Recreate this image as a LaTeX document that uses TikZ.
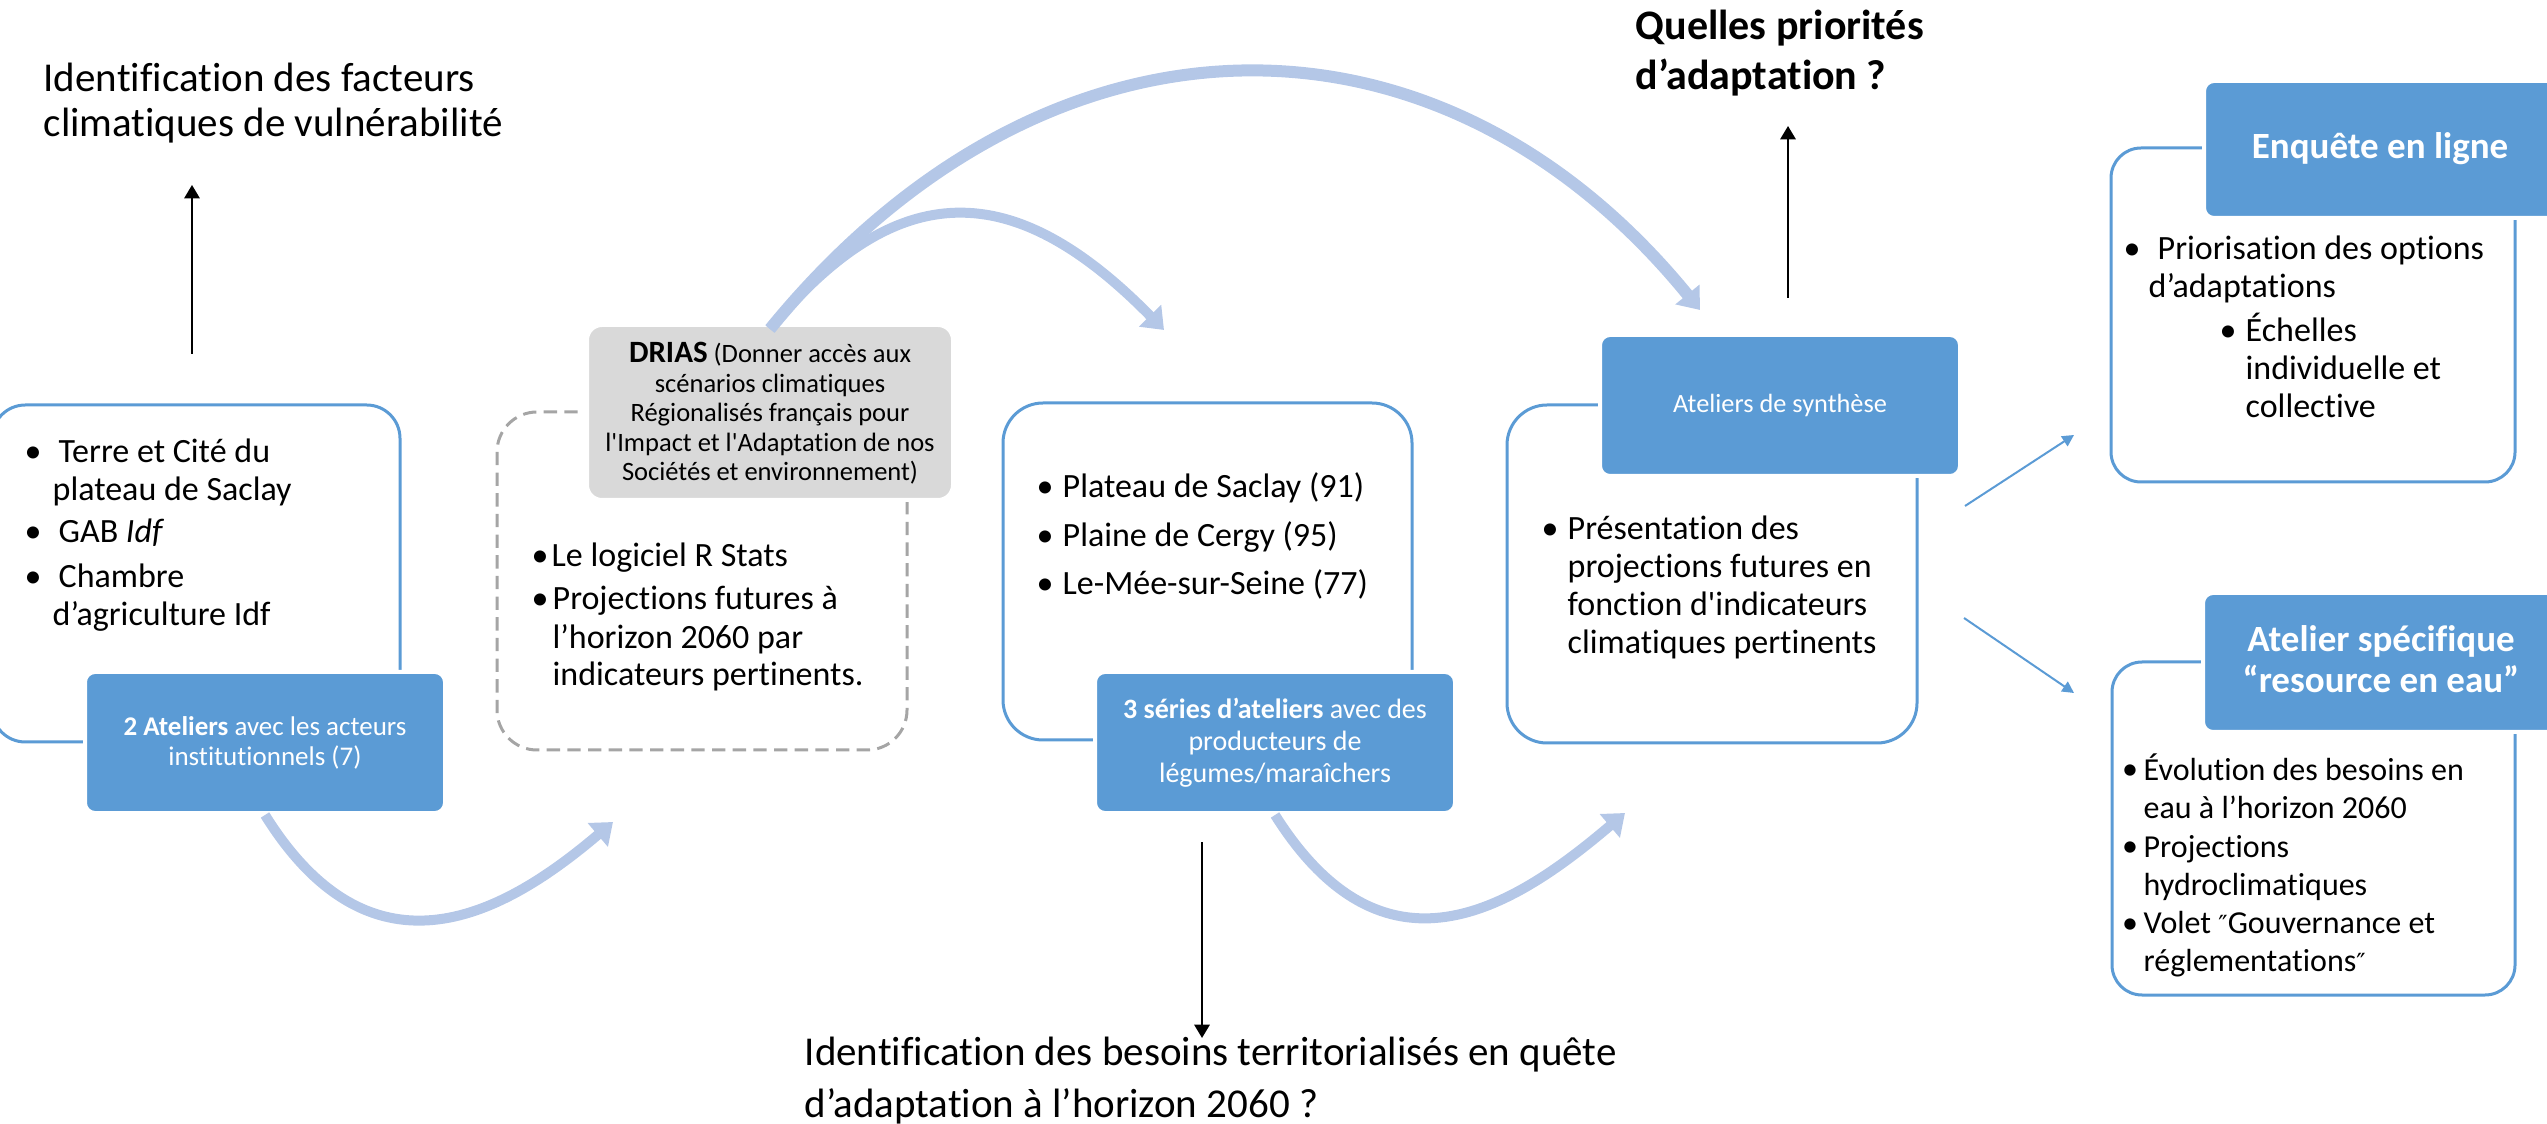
\documentclass[tikz,border=0pt]{standalone}
\usepackage{fontspec}
\setmainfont{Carlito}[Ligatures={TeXOff,NoCommon}]
\newfontfamily\djv{DejaVu Sans}
\usetikzlibrary{arrows.meta,fit}
\definecolor{accblue}{HTML}{5B9BD5}
\definecolor{arcblue}{HTML}{B4C7E7}
\definecolor{dgray}{HTML}{D9D9D9}
\definecolor{dashgray}{HTML}{A5A5A5}
\newcommand{\fbul}{\fontsize{10.2}{11.4}\selectfont}
\newcommand{\fbulb}{\fontsize{9.6}{11.3}\selectfont}
\newcommand{\fblue}{\fontsize{8.1}{9}\selectfont}
\newcommand{\fbluec}{\fontsize{8.4}{9.6}\selectfont}
\newcommand{\fsyn}{\fontsize{7.9}{9}\selectfont}
\newcommand{\fdrias}{\fontsize{7.95}{8.85}\selectfont}
\newcommand{\fhead}{\fontsize{11.1}{12.3}\selectfont}
\newcommand{\fbig}{\fontsize{12.3}{13.5}\selectfont}
\newcommand{\fq}{\fontsize{12.6}{15}\selectfont}
\newcommand{\fbot}{\fontsize{12.3}{15.6}\selectfont}
\begin{document}
\begin{tikzpicture}[x=0.3pt,y=-0.3pt,
  wbox/.style={draw=accblue,line width=0.9pt,fill=white,inner sep=0pt,rounded corners=10pt},
  bbox/.style={draw=white,line width=1.2pt,fill=accblue,inner sep=0pt,rounded corners=3pt},
  dbox/.style={draw=dashgray,line width=0.9pt,dash pattern=on 4pt off 2.2pt,inner sep=0pt,rounded corners=12pt},
  gbox/.style={draw=white,line width=1.2pt,fill=dgray,inner sep=0pt,rounded corners=4.5pt},
  txt/.style={anchor=base west,inner sep=0pt,align=left,text=black},
  ctxt/.style={anchor=base,inner sep=0pt,align=center},
  wtxt/.style={ctxt,text=white},
  bul/.style={anchor=base,inner sep=0pt},
  flow/.style={draw=arcblue,line width=3pt,-{Triangle[length=6pt,width=9pt]}},
  blk/.style={draw=black,line width=0.6pt,-{Triangle[length=4pt,width=4.6pt]}},
  lnk/.style={draw=accblue,line width=0.6pt,-{Triangle[length=3.5pt,width=3.5pt]}},
]
\useasboundingbox (0,0) rectangle (2547,1124);
\clip (0,0) rectangle (2547,1124);

% white / dashed boxes
\node[wbox,fit={(-8,405)(400,742)}] (b1) {};
\node[dbox,fit={(497,412)(907,750)}] (b2) {};
\node[wbox,rounded corners=12pt,fit={(1003,403)(1412,740)}] (b3) {};
\node[wbox,rounded corners=12pt,fit={(1507,405)(1917,743)}] (b4) {};
\node[wbox,rounded corners=9pt,fit={(2111,148)(2515,482)}] (b5) {};
\node[wbox,rounded corners=9pt,fit={(2112,662)(2515,995)}] (b6) {};

% coordinates for free ends
\coordinate (a1e) at (613,822);
\coordinate (a2e) at (1625,813);
\coordinate (a3e) at (1164,330);
\coordinate (a4e) at (1700,310);
\coordinate (u1s) at (192,354);
\coordinate (u1e) at (192,185);
\coordinate (u2s) at (1788,298);
\coordinate (u2e) at (1788,126);
\coordinate (d1s) at (1202,842);
\coordinate (d1e) at (1202,1038);
\coordinate (l1s) at (1965,506);
\coordinate (l1e) at (2074,435);
\coordinate (l2s) at (1964,618);
\coordinate (l2e) at (2074,693);

% blue / gray header boxes
\node[bbox,fit={(85,672)(445,813)}] (h1) {};
\node[gbox,fit={(587,325)(953,500)}] (drias) {};
\node[bbox,fit={(1095,672)(1455,813)}] (h3) {};
\node[bbox,fit={(1600,335)(1960,476)}] (h4) {};
\node[bbox,fit={(2204,81)(2570,218)}] (h5) {};
\node[bbox,fit={(2203,593)(2570,732)}] (h6) {};

% light curved arrows
\draw[flow] (h1.south) .. controls (374,990) and (507,912) .. (a1e);
\draw[flow] (h3.south) .. controls (1384,988) and (1511,910) .. (a2e);
\draw[flow,line width=3.6pt] (drias.north) ++(0,6) .. controls (1047,-10) and (1439,-10) .. (a4e);
\draw[flow] (drias.north) ++(0,6) .. controls (897,176) and (1013,176) .. (a3e);

% black arrows
\draw[blk] (u1s) -- (u1e);
\draw[blk] (u2s) -- (u2e);
\draw[blk] (d1s) -- (d1e);
% blue links
\draw[lnk] (l1s) -- (l1e);
\draw[lnk] (l2s) -- (l2e);

% header texts (anchor = baseline of last line)
\node[wtxt,font=\fblue] (h1t) at (265,765) {\textbf{2 Ateliers} avec les acteurs\\institutionnels (7)};
\node[ctxt,font=\fdrias] (driast) at (770,481) {{\bfseries\fontsize{9.3}{8.85}\selectfont DRIAS} (Donner accès aux\\scénarios climatiques\\Régionalisés français pour\\l'Impact et l'Adaptation de nos\\Sociétés et environnement)};
\node[wtxt,font=\fbluec] (h3t) at (1275,782) {\textbf{3 séries d’ateliers} avec des\\producteurs de\\légumes/maraîchers};
\node[wtxt,font=\fsyn] (h4t) at (1780,413) {Ateliers de synthèse};
\node[wtxt,font=\fhead\bfseries] (h5t) at (2380,159) {Enquête en ligne};
\node[wtxt,font=\fhead\bfseries] (h6t) at (2381,693) {Atelier spécifique\\“resource en eau”};

% box 1
\node[bul,font=\fbul] (k11) at (33,463) {•};
\node[txt,font=\fbul] (t11) at (52,501) {\hspace*{1.8pt}Terre et Cité du\\plateau de Saclay};
\node[bul,font=\fbul] (k12) at (33,543) {•};
\node[txt,font=\fbul] (t12) at (52,543) {\hspace*{1.8pt}GAB \textit{Idf}};
\node[bul,font=\fbul] (k13) at (33,588) {•};
\node[txt,font=\fbul] (t13) at (52,626) {\hspace*{1.8pt}Chambre\\d’agriculture Idf};

% box 2
\node[bul,font=\fbul] (k21) at (540,567) {•};
\node[txt,font=\fbul] (t21) at (551,567) {Le logiciel R Stats};
\node[bul,font=\fbul] (k22) at (540,610) {•};
\node[txt,font=\fbul] (t22) at (552,686) {Projections futures à\\l’horizon 2060 par\\indicateurs pertinents.};

% box 3
\node[bul,font=\fbul] (k31) at (1045,498) {•};
\node[txt,font=\fbul] (t31) at (1062,498) {Plateau de Saclay (91)};
\node[bul,font=\fbul] (k32) at (1045,547) {•};
\node[txt,font=\fbul] (t32) at (1062,547) {Plaine de Cergy (95)};
\node[bul,font=\fbul] (k33) at (1045,595) {•};
\node[txt,font=\fbul] (t33) at (1062,595) {Le-Mée-sur-Seine (77)};

% box 4
\node[bul,font=\fbul] (k41) at (1550,540) {•};
\node[txt,font=\fbul] (t41) at (1567,654) {Présentation des\\projections futures en\\fonction d'indicateurs\\climatiques pertinents};

% box 5
\node[bul,font=\fbul] (k51) at (2132,260) {•};
\node[txt,font=\fbul] (t51) at (2148,298) {\hspace*{2.7pt}Priorisation des options\\d’adaptations};
\node[bul,font=\fbul] (k52) at (2228,342) {•};
\node[txt,font=\fbul] (t52) at (2245,418) {Échelles\\individuelle et\\collective};

% box 6
\node[bul,font=\fbulb] (k61) at (2130,780) {•};
\node[txt,font=\fbulb] (t61) at (2143,818) {Évolution des besoins en\\eau à l’horizon 2060};
\node[bul,font=\fbulb] (k62) at (2130,857) {•};
\node[txt,font=\fbulb] (t62) at (2143,895) {Projections\\hydroclimatiques};
\node[bul,font=\fbulb] (k63) at (2130,933) {•};
\node[txt,font=\fbulb] (t63) at (2143,971) {Volet {\djv\fontsize{7.5}{9}\selectfont ″}Gouvernance et\\réglementations{\djv\fontsize{7.5}{9}\selectfont ″}};

% free texts
\node[txt,font=\fbig] (q1) at (43,137) {Identification des facteurs\\climatiques de vulnérabilité};
\node[txt,font=\fq\bfseries] (q2) at (1635,90) {Quelles priorités\\d’adaptation ?};
\node[txt,font=\fbot] (q3) at (804,1117) {Identification des besoins territorialisés en quête\\d’adaptation à l’horizon 2060 ?};
\end{tikzpicture}
\end{document}
